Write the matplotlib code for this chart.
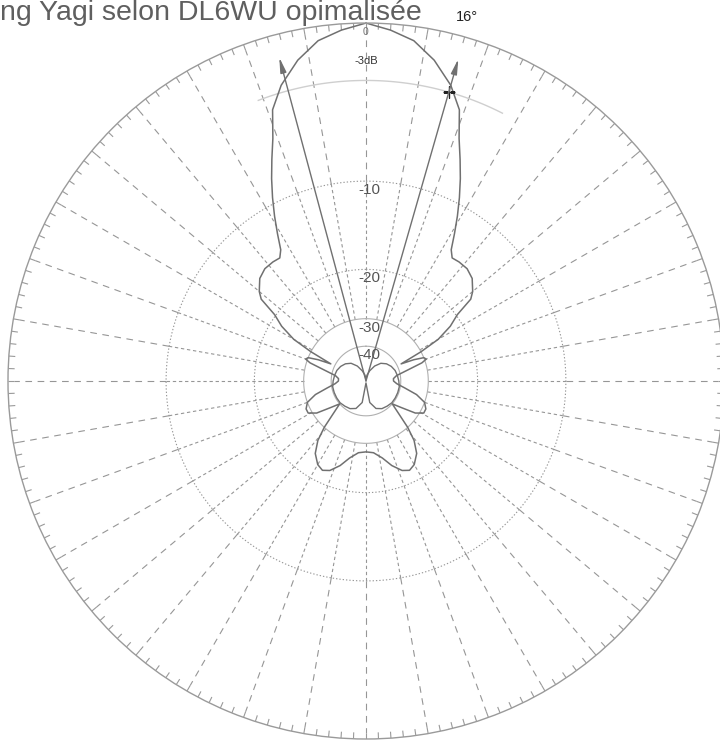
import matplotlib.pyplot as plt
import numpy as np

# half pattern (0..180 deg, mirrored), relative gain in dB
angle_deg = [0, 4, 8, 12, 16, 19, 21, 23, 25, 27, 29, 31, 33, 35, 38, 42, 46, 50, 52,
             54, 57, 60, 62, 64, 66, 68, 70, 72, 75, 80, 85, 90, 95, 100, 105, 110,
             115, 119, 123, 127, 131, 135, 138, 141, 145, 150, 154, 158, 163, 168, 174, 180]
gain_db = [0, -0.3, -0.7, -1.5, -2.6, -3.8, -5.5, -6.8, -8.1, -9.5, -11.0, -12.6, -14.2,
           -14.9, -14.8, -14.8, -15.2, -16.2, -17.0, -19.8, -21.8, -25, -30, -38, -33,
           -30, -29.5, -31, -36, -42, -44, -44, -42, -38, -33, -30, -29, -29, -31, -36,
           -40, -35, -30, -26.5, -24, -22.5, -22, -22.5, -24, -26, -27.5, -27.8]

# small figure-eight pattern drawn near the centre (half, mirrored)
inner_deg = [0, 10, 20, 30, 40, 50, 60, 70, 80, 90, 100, 110, 120, 130, 140, 150, 160, 170, 180]
inner_db = [-90, -70, -60, -52, -47, -44.5, -43, -42, -41.5, -41, -40.5, -40.5, -40.5,
            -40.5, -41, -41.5, -43, -48, -90]

ring_db = [-10, -20, -30, -40]
ring_labels = ['-10', '-20', '-30', '-40']
half_power_db = -3
beam_half_deg = 16
arrow_deg = [-15, 16]

title = 'ng Yagi selon DL6WU opimalisée'

GREY = '#969696'
LINE = '#707070'


def arrl(db):
    # ARRL log-periodic radial scale: 0.89 of radius per 2 dB
    return 0.89 ** (np.abs(np.asarray(db, dtype=float)) / 2.0)


def mirror(deg, db):
    th = np.deg2rad(np.array(deg, dtype=float))
    g = np.array(db, dtype=float)
    return (np.concatenate([th, 2 * np.pi - th[::-1][1:]]),
            np.concatenate([g, g[::-1][1:]]))


plt.rcParams['font.family'] = ['Liberation Sans', 'DejaVu Sans']

fig = plt.figure(figsize=(7.2, 7.42), dpi=100)
ax = fig.add_axes([0.0111, 0.004, 0.9944, 0.965], projection='polar')
ax.set_theta_zero_location('N')
ax.set_theta_direction(-1)
ax.set_ylim(0, 1)
ax.grid(False)
ax.set_xticks([])
ax.set_yticks([])
ax.spines['polar'].set_color('#9a9a9a')
ax.spines['polar'].set_linewidth(1.0)

full = np.linspace(0, 2 * np.pi, 721)

# tick marks on the outer circle, every 2 degrees
ticks = np.deg2rad(np.arange(0, 360, 2))
ax.vlines(ticks, 0.982, 1.0, color='#9a9a9a', lw=0.8)

# radial lines every 10 degrees
spokes = np.deg2rad(np.arange(0, 360, 10))
ax.vlines(spokes, arrl(-30), arrl(-10), color=GREY, lw=0.8, linestyles=(0, (3, 2.5)))
ax.vlines(spokes, arrl(-10), 0.982, color=GREY, lw=0.8, linestyles=(0, (6, 5)))

# dB rings
for db in ring_db:
    if db in (-10, -20):
        ax.plot(full, np.full_like(full, arrl(db)), color=GREY, lw=0.8,
                linestyle=(0, (1.2, 1.8)))
    else:
        ax.plot(full, np.full_like(full, arrl(db)), color='#b0b0b0', lw=0.8)

# -3 dB arc
arc = np.deg2rad(np.linspace(-21, 27, 100))
ax.plot(arc, np.full_like(arc, arrl(half_power_db)), color='#cfcfcf', lw=1.0)

# patterns
th_full, g_full = mirror(angle_deg, gain_db)
ax.plot(th_full, arrl(g_full), color=LINE, lw=1.1)
th_in, g_in = mirror(inner_deg, inner_db)
ax.plot(th_in, arrl(g_in), color=LINE, lw=1.0)

# beam arrows
for a in arrow_deg:
    ax.annotate('', xy=(np.deg2rad(a), 0.936), xytext=(0, 0), xycoords='data',
                arrowprops=dict(arrowstyle='-|>,head_length=0.9,head_width=0.18',
                                color=LINE, lw=1.0, shrinkA=0, shrinkB=0))

ax.plot(np.deg2rad(beam_half_deg), arrl(half_power_db), marker='+', color='#222222',
        ms=9, mew=1.0)

# labels
for db, lab in zip(ring_db, ring_labels):
    ax.annotate(lab, xy=(0, arrl(db)), xytext=(3, -9), textcoords='offset pixels',
                ha='center', va='center', fontsize=11, color='#555555')
ax.annotate('0', xy=(0, 1.0), xytext=(0, -9), textcoords='offset pixels',
            ha='center', va='center', fontsize=7.5, color='#777777')
ax.annotate('-3dB', xy=(0, arrl(half_power_db)), xytext=(0, 19), textcoords='offset pixels',
            ha='center', va='center', fontsize=8, color='#333333')

fig.text(467 / 720, 1 - 17 / 742, '16°', ha='center', va='center', fontsize=10.5,
         color='#222222')
fig.text(0.0, 1.0, title, ha='left', va='top', fontsize=20.5, color='#5f5f5f')

fig.savefig('out.png', dpi=100)
